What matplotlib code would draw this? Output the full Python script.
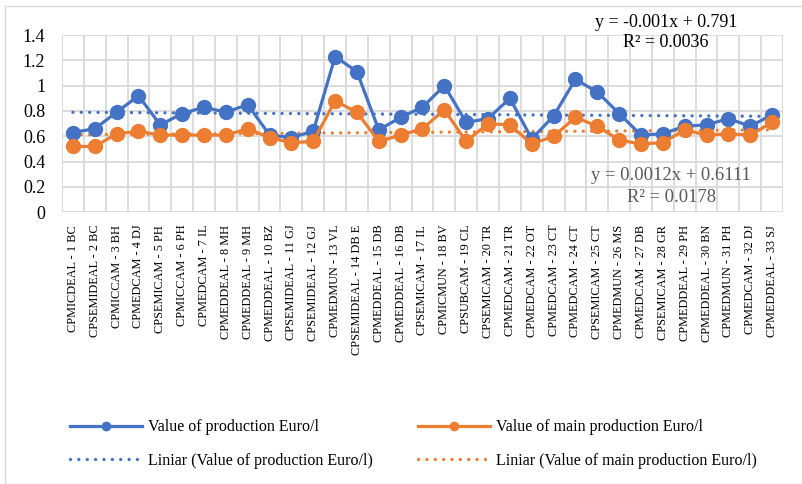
import matplotlib
matplotlib.use("Agg")
import matplotlib.pyplot as plt
import numpy as np

plt.rcParams['font.family'] = ['Liberation Serif', 'DejaVu Serif']

farms = ["CPMICDEAL - 1 BC", "CPSEMIDEAL - 2 BC", "CPMICCAM - 3 BH", "CPMEDCAM - 4 DJ",
         "CPSEMICAM - 5 PH", "CPMICCAM - 6 PH", "CPMEDCAM - 7 IL", "CPMEDDEAL - 8 MH",
         "CPMEDDEAL - 9 MH", "CPMEDDEAL - 10 BZ", "CPSEMIDEAL - 11 GJ", "CPSEMIDEAL - 12 GJ",
         "CPMEDMUN - 13 VL", "CPSEMIDEAL - 14 DB E", "CPMEDDEAL - 15 DB", "CPMEDDEAL - 16 DB",
         "CPSEMICAM - 17 IL", "CPMICMUN - 18 BV", "CPSUBCAM - 19 CL", "CPSEMICAM - 20 TR",
         "CPMEDCAM - 21 TR", "CPMEDCAM - 22 OT", "CPMEDCAM - 23 CT", "CPMEDCAM - 24 CT",
         "CPSEMICAM - 25 CT", "CPMEDMUN - 26 MS", "CPMEDCAM - 27 DB", "CPSEMICAM - 28 GR",
         "CPMEDDEAL - 29 PH", "CPMEDDEAL - 30 BN", "CPMEDMUN - 31 PH", "CPMEDCAM - 32 DJ",
         "CPMEDDEAL - 33 SJ"]

production = [0.63, 0.66, 0.79, 0.92, 0.69, 0.78, 0.83, 0.79, 0.85, 0.61, 0.59, 0.64,
              1.23, 1.11, 0.65, 0.75, 0.83, 1.00, 0.71, 0.74, 0.90, 0.58, 0.76, 1.05,
              0.95, 0.78, 0.61, 0.62, 0.68, 0.69, 0.74, 0.68, 0.77]
main_production = [0.52, 0.52, 0.62, 0.64, 0.61, 0.61, 0.61, 0.61, 0.66, 0.59, 0.55, 0.56,
                   0.88, 0.79, 0.56, 0.61, 0.66, 0.81, 0.56, 0.70, 0.69, 0.54, 0.60, 0.75,
                   0.68, 0.57, 0.54, 0.55, 0.65, 0.61, 0.62, 0.61, 0.71]

# linear trend coefficients (slope, intercept, R²)
trend_prod = (-0.001, 0.791, 0.0036)
trend_main = (0.0012, 0.6111, 0.0178)

blue = '#4472C4'
orange = '#ED7D31'
grid = '#D9D9D9'

x = np.arange(1, len(farms) + 1)

fig = plt.figure(figsize=(8.03, 4.84), dpi=100)
ax = fig.add_axes([62 / 803, 1 - 212.3 / 484, (783 - 62) / 803, (212.3 - 35) / 484])

# outer chart border
fig.patches.append(plt.Rectangle((5 / 803, 0), 1, 1 - 6 / 484, transform=fig.transFigure,
                                 fill=False, edgecolor=grid, lw=1))

ax.plot(x, production, color=blue, lw=2.3, marker='o', ms=10, zorder=4,
        label='Value of production Euro/l')
ax.plot(x, main_production, color=orange, lw=2.3, marker='o', ms=10, zorder=5,
        label='Value of main production Euro/l')
ax.plot(x, trend_prod[0] * x + trend_prod[1], color=blue, lw=2.4,
        ls=(0, (0.01, 2.5)), dash_capstyle='round', zorder=3,
        label='Liniar (Value of production Euro/l)')
ax.plot(x, trend_main[0] * x + trend_main[1], color=orange, lw=2.4,
        ls=(0, (0.01, 2.5)), dash_capstyle='round', zorder=3,
        label='Liniar (Value of main production Euro/l)')

ax.set_xlim(0.5, len(farms) + 0.5)
ax.set_ylim(0, 1.4)
ax.set_yticks(np.arange(0, 1.41, 0.2))
ax.set_yticklabels(['0', '0.2', '0.4', '0.6', '0.8', '1', '1.2', '1.4'], fontsize=13)
ax.set_xticks(x)
ax.set_xticklabels(farms, rotation=90, fontsize=8.8)
ax.tick_params(axis='both', length=0)
ax.tick_params(axis='y', pad=12)
ax.tick_params(axis='x', pad=9)

ax.set_xticks(np.arange(0.5, len(farms) + 1), minor=True)
ax.tick_params(which='minor', length=0)
ax.grid(True, which='minor', axis='x', color=grid, lw=1.3)
ax.grid(True, which='major', axis='y', color=grid, lw=1.3)
ax.set_axisbelow(True)
for s in ax.spines.values():
    s.set_visible(False)

ax.text(0.838, 1.073, 'y = %gx + %g' % (trend_prod[0], trend_prod[1]),
        transform=ax.transAxes, ha='center', va='center', fontsize=13, color='black')
ax.text(0.838, 0.955, 'R² = %.4f' % trend_prod[2],
        transform=ax.transAxes, ha='center', va='center', fontsize=13, color='black')
ax.text(0.845, 0.205, 'y = %gx + %g' % (trend_main[0], trend_main[1]),
        transform=ax.transAxes, ha='center', va='center', fontsize=13.4, color='#595959')
ax.text(0.845, 0.081, 'R² = %.4f' % trend_main[2],
        transform=ax.transAxes, ha='center', va='center', fontsize=13.4, color='#595959')

handles, labels = ax.get_legend_handles_labels()
order = [0, 2, 1, 3]
fig.legend([handles[i] for i in order], [labels[i] for i in order], ncol=2,
           loc='center left', bbox_to_anchor=(70 / 803, 1 - 444 / 484),
           frameon=False, fontsize=11.5, markerscale=0.6, handlelength=4.5,
           handletextpad=0.4, columnspacing=2.8, labelspacing=1.1,
           borderpad=0, borderaxespad=0)

fig.savefig('out.png', dpi=100)
